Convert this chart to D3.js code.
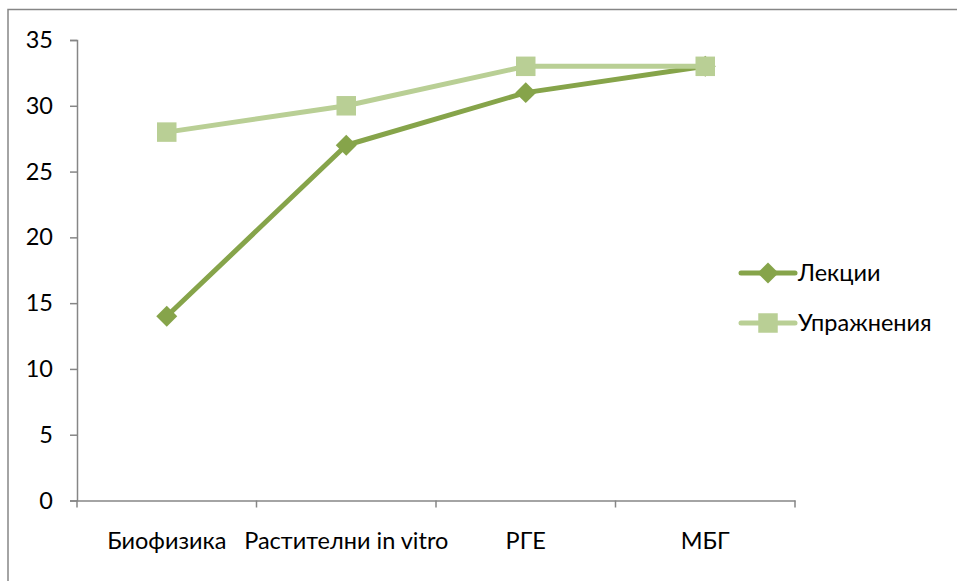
<!DOCTYPE html>
<html>
<head>
<meta charset="utf-8">
<script src="https://cdn.jsdelivr.net/npm/d3@7"></script>
<style>
  body { margin: 0; background: #fff; }
  text { font-family: Lato, "Open Sans", sans-serif; fill: #000; }
</style>
</head>
<body>
<div id="chart"></div>
<script>
// data
var categories = ["Биофизика", "Растителни in vitro", "РГЕ", "МБГ"];
var lectures = [14, 27, 31, 33];
var exercises = [28, 30, 33, 33];
var yTicks = [0, 5, 10, 15, 20, 25, 30, 35];
var seriesNames = ["Лекции", "Упражнения"];

var width = 957, height = 581;
var fontSize = "23.5px";

var svg = d3.select("#chart").append("svg")
    .attr("width", width)
    .attr("height", height);

// chart frame (only top/left edges fall inside the picture)
svg.append("rect")
    .attr("x", 8).attr("y", 9.5)
    .attr("width", width + 20).attr("height", height + 20)
    .attr("fill", "none")
    .attr("stroke", "#868686")
    .attr("stroke-width", 1.5);

var x = d3.scaleBand()
    .domain(categories)
    .range([77, 795])
    .paddingInner(0).paddingOuter(0);

var y = d3.scaleLinear()
    .domain([0, 35])
    .range([500.5, 40]);

var axisColor = "#868686";

// y axis
var yAxis = svg.append("g")
    .attr("transform", "translate(77,0)")
    .call(d3.axisLeft(y).tickValues(yTicks).tickSize(7).tickPadding(17));
yAxis.select(".domain").attr("stroke", axisColor).attr("stroke-width", 1.5);
yAxis.selectAll(".tick line").attr("stroke", axisColor).attr("stroke-width", 1.5);
yAxis.selectAll(".tick text")
    .style("font-family", "Lato, 'Open Sans', sans-serif")
    .style("font-size", fontSize)
    .attr("fill", "#000");

// x axis
var xAxis = svg.append("g")
    .attr("transform", "translate(0," + y(0) + ")")
    .call(d3.axisBottom(x).tickSize(0).tickPadding(32));
xAxis.select(".domain").attr("stroke", axisColor).attr("stroke-width", 1.5);
xAxis.selectAll(".tick text")
    .style("font-family", "Lato, 'Open Sans', sans-serif")
    .style("font-size", fontSize)
    .attr("fill", "#000");

// category boundary ticks
var bounds = categories.map(function(c){ return x(c); }).concat([x.range()[1]]);
svg.append("g").selectAll("line")
    .data(bounds)
    .enter().append("line")
    .attr("x1", function(d){ return d; })
    .attr("x2", function(d){ return d; })
    .attr("y1", y(0))
    .attr("y2", y(0) + 7)
    .attr("stroke", axisColor)
    .attr("stroke-width", 1.5);

var cx = function(i){ return x(categories[i]) + x.bandwidth() / 2; };

var darkGreen = "#86A44A";
var lightGreen = "#B9CF95";

var line = d3.line()
    .x(function(d, i){ return cx(i); })
    .y(function(d){ return y(d); });

var diamond = d3.symbol().type(d3.symbolDiamond2).size(280);
var square = d3.symbol().type(d3.symbolSquare).size(380);

// Лекции first, Упражнения drawn on top
svg.append("path")
    .datum(lectures)
    .attr("d", line)
    .attr("fill", "none")
    .attr("stroke", darkGreen)
    .attr("stroke-width", 5)
    .attr("stroke-linejoin", "round");

svg.append("g").selectAll("path")
    .data(lectures)
    .enter().append("path")
    .attr("d", diamond)
    .attr("transform", function(d, i){ return "translate(" + cx(i) + "," + y(d) + ")"; })
    .attr("fill", darkGreen);

svg.append("path")
    .datum(exercises)
    .attr("d", line)
    .attr("fill", "none")
    .attr("stroke", lightGreen)
    .attr("stroke-width", 5)
    .attr("stroke-linejoin", "round");

svg.append("g").selectAll("path")
    .data(exercises)
    .enter().append("path")
    .attr("d", square)
    .attr("transform", function(d, i){ return "translate(" + cx(i) + "," + y(d) + ")"; })
    .attr("fill", lightGreen);

// legend
var legend = svg.append("g");
var legendItems = [
    {name: seriesNames[0], color: darkGreen, sym: diamond, y: 273},
    {name: seriesNames[1], color: lightGreen, sym: square, y: 323}
];
legendItems.forEach(function(it){
    legend.append("line")
        .attr("x1", 741).attr("x2", 795)
        .attr("y1", it.y).attr("y2", it.y)
        .attr("stroke", it.color)
        .attr("stroke-width", 5)
        .attr("stroke-linecap", "round");
    legend.append("path")
        .attr("d", it.sym)
        .attr("transform", "translate(768," + it.y + ")")
        .attr("fill", it.color);
    legend.append("text")
        .attr("x", 798)
        .attr("y", it.y)
        .attr("dy", "0.35em")
        .style("font-size", fontSize)
        .text(it.name);
});
</script>
</body>
</html>
